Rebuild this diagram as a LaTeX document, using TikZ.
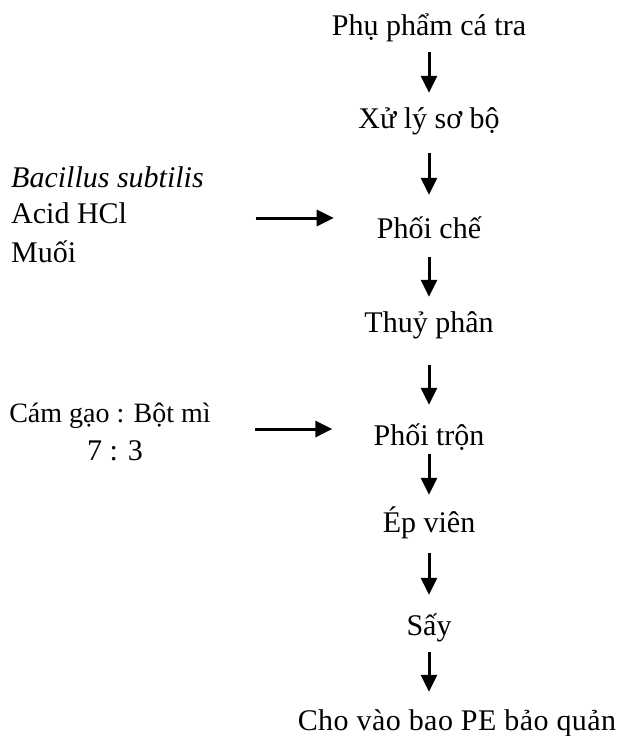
\documentclass[tikz,border=0pt]{standalone}
\usepackage{fontspec}
\setmainfont{Liberation Serif}
\usetikzlibrary{arrows.meta,calc}
\begin{document}
\begin{tikzpicture}[x=1pt,y=-1pt,
  lbl/.style={inner sep=0pt,anchor=base,text height=22pt,text depth=8pt,font=\fontsize{30}{36}\selectfont},
  side/.style={inner sep=0pt,anchor=base west,text height=22pt,text depth=8pt,font=\fontsize{30}{36}\selectfont},
  arr/.style={line width=3pt,-{Triangle[width=16pt,length=17pt]}}]
\useasboundingbox (0,0) rectangle (621,736);
% main flow
\node[lbl] (p) at (429,35) {Phụ phẩm cá tra};
\node[lbl] (x) at (429,128) {Xử lý sơ bộ};
\node[lbl] (c) at (429,238) {Phối chế};
\node[lbl] (t) at (429,332) {Thuỷ phân};
\node[lbl] (r) at (429,445) {Phối trộn};
\node[lbl] (e) at (429,532) {Ép viên};
\node[lbl] (s) at (429,635) {Sấy};
\node[lbl] (b) at (457,730) {\addfontfeature{LetterSpace=1.5}Cho vào bao PE bảo quản};
% side inputs
\node[side] (bs) at (11,187) {\itshape Bacillus subtilis};
\node[side] (ac) at (11,223) {Acid HCl};
\node[side] (mu) at (11,262) {Muối};
\node[lbl,font=\fontsize{28}{34}\selectfont] (cg) at (110,422) {Cám gạo : Bột mì};
\node[lbl] (ty) at (115,460) {7 : 3};
% arrows
\draw[arr,shorten <=9pt,shorten >=13pt] (p.south) -- (x.north);
\draw[arr,shorten <=17pt,shorten >=21pt] (x.south) -- (c.north);
\draw[arr,shorten <=11pt,shorten >=13pt] (c.south) -- (t.north);
\draw[arr,shorten <=25pt,shorten >=18pt] (t.south) -- (r.north);
\draw[arr,shorten <=1pt,shorten >=15pt] (r.south) -- (e.north);
\draw[arr,shorten <=13pt,shorten >=18pt] (e.south) -- (s.north);
\draw[arr,shorten <=9pt,shorten >=16pt] (s.south) -- (b.north -| s.south);
\draw[arr] ($(c.west)+(-121,-13)$) -- ($(c.west)+(-43,-13)$);
\draw[arr] ($(r.west)+(-118,-9)$) -- ($(r.west)+(-41,-9)$);
\end{tikzpicture}
\end{document}
